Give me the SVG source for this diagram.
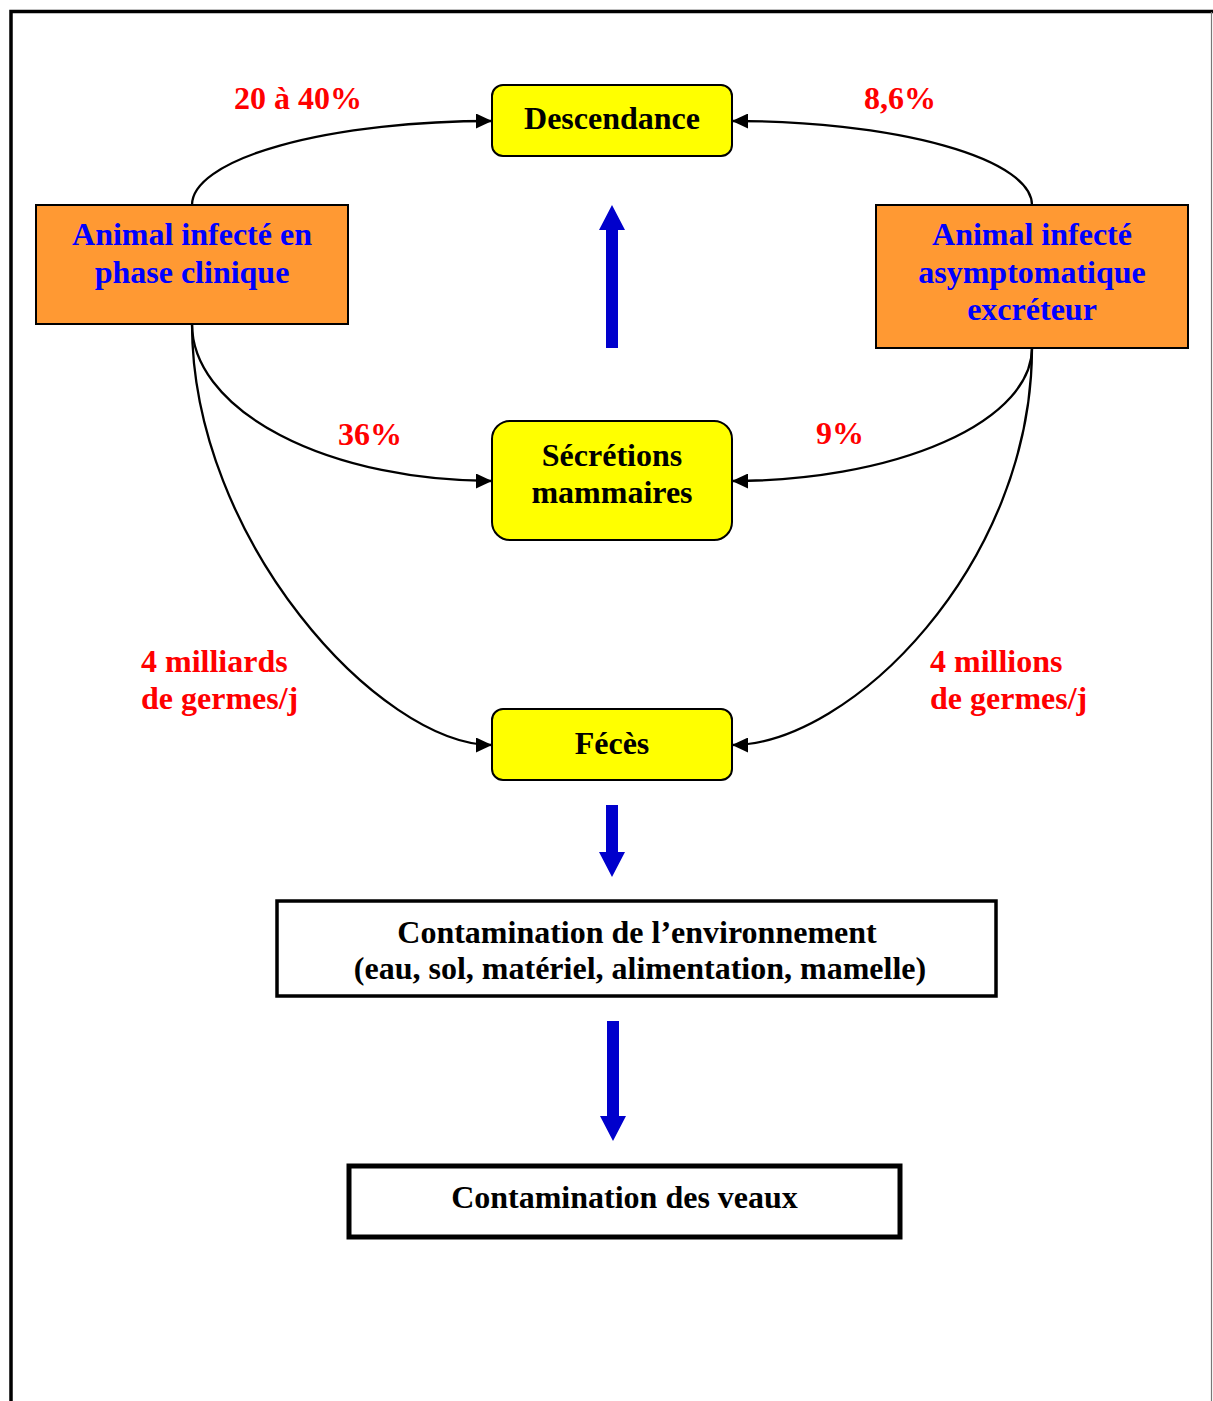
<svg xmlns="http://www.w3.org/2000/svg" width="1213" height="1401" viewBox="0 0 1213 1401">
<defs>
<style>
.t{font-family:"Liberation Serif","Times New Roman",serif;font-weight:bold;font-size:32px;text-anchor:middle}
.blue{fill:#0000FF}
.blk{fill:#000}
.red{font-family:"Liberation Serif","Times New Roman",serif;font-weight:bold;font-size:32px;fill:#FF0000}
.org{fill:#FF9933;stroke:#000;stroke-width:2}
.yel{fill:#FFFF00;stroke:#000;stroke-width:2}
.box{fill:#fff;stroke:#000}
.con{fill:none;stroke:#000;stroke-width:2.3;marker-end:url(#ah)}
.barrow{fill:#0000CC}
</style>
<marker id="ah" markerUnits="userSpaceOnUse" markerWidth="16" markerHeight="15" refX="16" refY="7.5" orient="auto">
<path d="M0,0 L16,7.5 L0,15 z" fill="#000"/>
</marker>
</defs>
<rect width="1213" height="1401" fill="#fff"/>
<g id="frame">
<path d="M11,1401 V11.5 H1213" fill="none" stroke="#000" stroke-width="3.5"/>
<line x1="1211.5" y1="12" x2="1211.5" y2="1401" stroke="#777" stroke-width="1.2"/>
</g>
<g id="connectors">
<path class="con" d="M192,205 A300,84 0 0 1 492,121"/>
<path class="con" d="M1032,205 A300,84 0 0 0 732,121"/>
<path class="con" d="M192,324 A300,157 0 0 0 492,481"/>
<path class="con" d="M1032,348 A300,133 0 0 1 732,481"/>
<path class="con" d="M192,324 C192,540 380,745 492,745"/>
<path class="con" d="M1032,348 C1032,565 850,745 732,745"/>
<polygon class="barrow" points="606,348 618,348 618,230 625,230 612,205 599,230 606,230"/>
<polygon class="barrow" points="606,805 618,805 618,852 625,852 612,877 599,852 606,852"/>
<polygon class="barrow" points="607,1021 619,1021 619,1116 626,1116 613,1141 600,1116 607,1116"/>
</g>
<g id="labels">
<text class="red" x="234" y="109">20 à 40%</text>
<text class="red" x="864" y="109">8,6%</text>
<text class="red" x="338" y="445">36%</text>
<text class="red" x="816" y="444">9%</text>
<text class="red" x="141" y="672">4 milliards</text>
<text class="red" x="141" y="709">de germes/j</text>
<text class="red" x="930" y="672">4 millions</text>
<text class="red" x="930" y="709">de germes/j</text>
</g>
<g id="node-clinique">
<rect class="org" x="36" y="205" width="312" height="119"/>
<text class="t blue" x="192" y="245">Animal infecté en</text>
<text class="t blue" x="192" y="283">phase clinique</text>
</g>
<g id="node-asympto">
<rect class="org" x="876" y="205" width="312" height="143"/>
<text class="t blue" x="1032" y="245">Animal infecté</text>
<text class="t blue" x="1032" y="283">asymptomatique</text>
<text class="t blue" x="1032" y="320">excréteur</text>
</g>
<g id="node-descendance">
<rect class="yel" x="492" y="85" width="240" height="71" rx="11"/>
<text class="t blk" x="612" y="129">Descendance</text>
</g>
<g id="node-secretions">
<rect class="yel" x="492" y="421" width="240" height="119" rx="18"/>
<text class="t blk" x="612" y="466">Sécrétions</text>
<text class="t blk" x="612" y="503">mammaires</text>
</g>
<g id="node-feces">
<rect class="yel" x="492" y="709" width="240" height="71" rx="11"/>
<text class="t blk" x="612" y="754">Fécès</text>
</g>
<g id="node-env">
<rect class="box" x="277" y="901" width="719" height="95" stroke-width="3.5"/>
<text class="t blk" x="637" y="943">Contamination de l’environnement</text>
<text class="t blk" x="640" y="979">(eau, sol, matériel, alimentation, mamelle)</text>
</g>
<g id="node-veaux">
<rect class="box" x="349" y="1166" width="551" height="71" stroke-width="5"/>
<text class="t blk" x="624.5" y="1208">Contamination des veaux</text>
</g>
</svg>
